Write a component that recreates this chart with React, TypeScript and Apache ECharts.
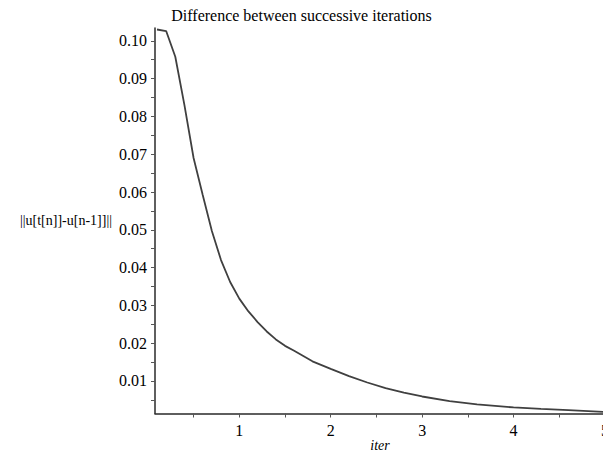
import React, { useEffect, useRef } from "react";
import * as echarts from "echarts";

const titleText = "Difference between successive iterations";
const xName = "iter";
const yName = "||u[t[n]]-u[n-1]]||";

const iterX = [
  0.1, 0.2, 0.3, 0.4, 0.5, 0.6, 0.7, 0.8, 0.9, 1.0,
  1.1, 1.2, 1.3, 1.4, 1.5, 1.6, 1.7, 1.8, 1.9, 2.0,
  2.2, 2.4, 2.6, 2.8, 3.0, 3.3, 3.6, 4.0, 4.3, 4.6, 5.0,
];
const diffY = [
  0.103, 0.1026, 0.0958, 0.083, 0.069, 0.0592, 0.0497, 0.042, 0.0362, 0.0318,
  0.0284, 0.0256, 0.0231, 0.021, 0.0193, 0.018, 0.0166, 0.0152, 0.0142, 0.0132,
  0.0113, 0.0096, 0.0081, 0.0069, 0.0059, 0.0047, 0.0038, 0.003, 0.0026, 0.0023, 0.0018,
];

const xLabelValues = [1, 2, 3, 4, 5];
const xTickValues = [0.5, 1, 1.5, 2, 2.5, 3, 3.5, 4, 4.5, 5];
const yLabelValues = [0.01, 0.02, 0.03, 0.04, 0.05, 0.06, 0.07, 0.08, 0.09, 0.1];
const yTickValues = [
  0.005, 0.01, 0.015, 0.02, 0.025, 0.03, 0.035, 0.04, 0.045, 0.05,
  0.055, 0.06, 0.065, 0.07, 0.075, 0.08, 0.085, 0.09, 0.095, 0.1,
];

const serif = "'Liberation Serif', 'Times New Roman', serif";

export default function App() {
  const ref = useRef<HTMLDivElement>(null);
  useEffect(() => {
    if (!ref.current) return;
    const chart = echarts.init(ref.current, undefined, { renderer: "svg" });
    const axisLineStyle = { color: "#2a2a2a", width: 1.5 };
    chart.setOption({
      animation: false,
      backgroundColor: "#ffffff",
      title: {
        text: titleText,
        left: "center",
        top: 2,
        textStyle: { fontFamily: serif, fontSize: 16, fontWeight: "normal", color: "#000" },
      },
      grid: {
        left: 155,
        top: 28,
        right: -2,
        bottom: 41.5,
        containLabel: false,
        outerBoundsMode: "none",
      },
      xAxis: {
        type: "value",
        min: 0.078,
        max: 5,
        name: xName,
        nameLocation: "middle",
        nameGap: 25,
        nameMoveOverlap: false,
        nameTextStyle: { fontFamily: serif, fontSize: 14, fontStyle: "italic", color: "#000" },
        axisLine: { show: true, lineStyle: axisLineStyle },
        axisTick: { show: true, length: 4, customValues: xTickValues, lineStyle: { color: "#555" } },
        axisLabel: {
          customValues: xLabelValues,
          margin: 9,
          fontFamily: serif,
          fontSize: 16,
          color: "#000",
          showMinLabel: true,
          showMaxLabel: true,
          hideOverlap: false,
        },
        splitLine: { show: false },
      },
      yAxis: {
        type: "value",
        min: 0.0014,
        max: 0.1034,
        name: yName,
        nameLocation: "middle",
        nameRotate: 0,
        nameGap: 43,
        nameMoveOverlap: false,
        nameTextStyle: { fontFamily: serif, fontSize: 14, color: "#000", align: "right" },
        axisLine: { show: true, lineStyle: axisLineStyle },
        axisTick: { show: true, length: 4, customValues: yTickValues, lineStyle: { color: "#555" } },
        axisLabel: {
          customValues: yLabelValues,
          margin: 8,
          fontFamily: serif,
          fontSize: 16,
          color: "#000",
          formatter: (v: number) => v.toFixed(2),
        },
        splitLine: { show: false },
      },
      series: [
        {
          type: "line",
          data: iterX.map((x, i) => [x, diffY[i]]),
          showSymbol: false,
          smooth: false,
          lineStyle: { color: "#404040", width: 1.8 },
          clip: true,
        },
      ],
    });
    return () => chart.dispose();
  }, []);
  return (
    <div
      ref={ref}
      style={{ position: "fixed", left: 0, top: 0, width: 603, height: 455, background: "#fff" }}
    />
  );
}
